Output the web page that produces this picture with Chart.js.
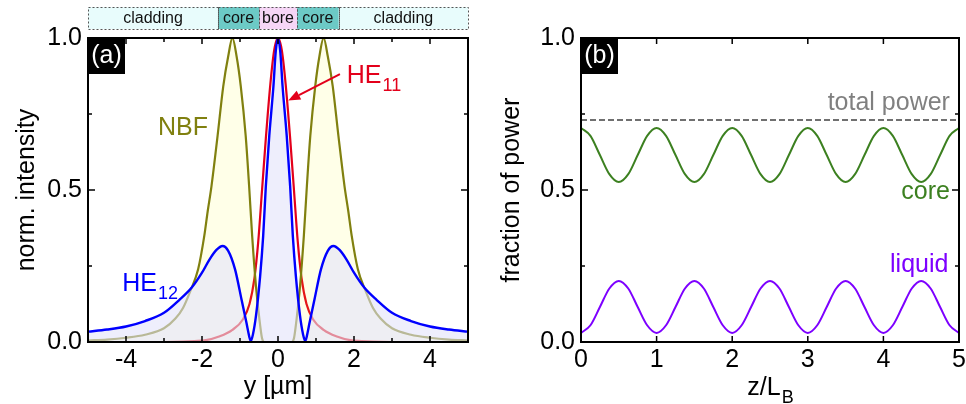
<!DOCTYPE html>
<html><head><meta charset="utf-8">
<script src="https://cdn.jsdelivr.net/npm/chart.js@4.4.1/dist/chart.umd.min.js"></script>
<style>
html,body{margin:0;padding:0;background:#fff;}
#wrap{position:relative;width:966px;height:404px;overflow:hidden;background:#fff;}
#ca{position:absolute;left:0;top:0;}
#cb{position:absolute;left:483px;top:0;}
</style></head><body>
<div id="wrap"><canvas id="ca" width="483" height="404"></canvas><canvas id="cb" width="483" height="404"></canvas></div>
<script>
// ---------- panel (a) data: normalized intensity vs y [um] ----------
const nbfPos = [-5,-4.5,-4,-3.5,-3,-2.7,-2.5,-2.3,-2.1,-1.94,-1.85,-1.75,-1.59,-1.44,-1.31,-1.2,-1.09,-0.98,-0.85,-0.76,-0.68,-0.58,-0.49,-0.42,-0.36,0,0.36,0.42,0.49,0.58,0.68,0.76,0.85,0.98,1.09,1.2,1.31,1.44,1.59,1.75,1.85,1.94,2.1,2.3,2.5,2.7,3,3.5,4,4.5,5];
const nbfInt = [0.005,0.008,0.014,0.024,0.045,0.077,0.112,0.17,0.24,0.349,0.43,0.513,0.678,0.842,0.94,1.0,0.94,0.842,0.678,0.513,0.349,0.184,0.076,0.012,0,0,0,0.012,0.076,0.184,0.349,0.513,0.678,0.842,0.94,1.0,0.94,0.842,0.678,0.513,0.43,0.349,0.24,0.17,0.112,0.077,0.045,0.024,0.014,0.008,0.005];

const he11Pos = [-5,-3,-2.5,-2.2,-1.9,-1.55,-1.2,-0.92,-0.75,-0.62,-0.52,-0.42,-0.32,-0.2,-0.1,0,0.1,0.2,0.32,0.42,0.52,0.62,0.75,0.92,1.2,1.55,1.9,2.2,2.5,3,5];
const he11Int = [0,0,0.001,0.003,0.006,0.018,0.04,0.075,0.125,0.21,0.33,0.5,0.67,0.85,0.96,1.0,0.96,0.85,0.67,0.5,0.33,0.21,0.125,0.075,0.04,0.018,0.006,0.003,0.001,0,0];

const he12Pos = [-5,-4.5,-4,-3.5,-3,-2.6,-2.27,-2,-1.8,-1.62,-1.46,-1.31,-1.13,-0.96,-0.83,-0.76,-0.72,-0.66,-0.58,-0.47,-0.39,-0.32,-0.23,-0.12,-0.06,0,0.06,0.12,0.23,0.32,0.39,0.47,0.58,0.66,0.72,0.76,0.83,0.96,1.13,1.31,1.46,1.62,1.8,2,2.27,2.6,3,3.5,4,4.5,5];
const he12Int = [0.034,0.041,0.051,0.069,0.096,0.138,0.179,0.228,0.272,0.303,0.316,0.30,0.239,0.14,0.063,0.02,0.003,0.025,0.086,0.217,0.349,0.513,0.678,0.842,0.955,1.0,0.955,0.842,0.678,0.513,0.349,0.217,0.086,0.025,0.003,0.02,0.063,0.14,0.239,0.30,0.316,0.303,0.272,0.228,0.179,0.138,0.096,0.069,0.051,0.041,0.034];

// fiber regions (top band)
const regionLabels = ['cladding','core','bore','core','cladding'];
const regionEdges = [-5,-1.58,-0.5,0.5,1.6,5];

// ticks panel (a)
const xTicksA = [-4,-2,0,2,4];
const xMarksA = [-5,-4,-3,-2,-1,0,1,2,3,4,5];
const yTicks = [0,0.5,1.0];
const yMarks = [0,0.25,0.5,0.75,1.0];

// ---------- panel (b) data: fraction of power vs z/L_B ----------
const zPos = [0,0.125,0.25,0.375,0.5,0.625,0.75,0.875,1,1.125,1.25,1.375,1.5,1.625,1.75,1.875,2,2.125,2.25,2.375,2.5,2.625,2.75,2.875,3,3.125,3.25,3.375,3.5,3.625,3.75,3.875,4,4.125,4.25,4.375,4.5,4.625,4.75,4.875,5];
const coreFrac = [0.704,0.678,0.615,0.552,0.526,0.552,0.615,0.678,0.704,0.678,0.615,0.552,0.526,0.552,0.615,0.678,0.704,0.678,0.615,0.552,0.526,0.552,0.615,0.678,0.704,0.678,0.615,0.552,0.526,0.552,0.615,0.678,0.704,0.678,0.615,0.552,0.526,0.552,0.615,0.678,0.704];
const liquidFrac = [0.030,0.055,0.115,0.176,0.201,0.176,0.115,0.055,0.030,0.055,0.115,0.176,0.201,0.176,0.115,0.055,0.030,0.055,0.115,0.176,0.201,0.176,0.115,0.055,0.030,0.055,0.115,0.176,0.201,0.176,0.115,0.055,0.030,0.055,0.115,0.176,0.201,0.176,0.115,0.055,0.030];
const totalPos = [0,5];
const totalFrac = [0.73,0.73];
const xTicksB = [0,1,2,3,4,5];

// ---------- helpers ----------
const FONT = '"Liberation Sans", Arial, Helvetica, sans-serif';
Chart.defaults.font.family = FONT;
const pts = (xs, ys) => xs.map((x, i) => ({x: x, y: ys[i]}));

function subText(ctx, main, sub, x, y, color, align, size) {
  size = size || 25;
  const ss = Math.round(size * 0.7);
  ctx.save();
  ctx.font = size + 'px ' + FONT; const w1 = ctx.measureText(main).width;
  ctx.font = ss + 'px ' + FONT; const w2 = ctx.measureText(sub).width;
  let x0 = x;
  if (align === 'center') x0 = x - (w1 + w2) / 2;
  else if (align === 'right') x0 = x - w1 - w2;
  ctx.fillStyle = color; ctx.textAlign = 'left'; ctx.textBaseline = 'alphabetic';
  ctx.font = size + 'px ' + FONT; ctx.fillText(main, x0, y);
  ctx.font = ss + 'px ' + FONT; ctx.fillText(sub, x0 + w1 + 1, y + 8);
  ctx.restore();
}
function text(ctx, s, x, y, color, align, size) {
  ctx.save();
  ctx.font = (size || 25) + 'px ' + FONT; ctx.fillStyle = color;
  ctx.textAlign = align || 'left'; ctx.textBaseline = 'alphabetic';
  ctx.fillText(s, x, y); ctx.restore();
}
function frameAndTicks(chart, xMarks, xMajor) {
  const ctx = chart.ctx, a = chart.chartArea, sx = chart.scales.x, sy = chart.scales.y;
  ctx.save();
  ctx.strokeStyle = '#000';
  ctx.lineWidth = 1.5;
  ctx.beginPath();
  xMarks.forEach(v => {
    const p = sx.getPixelForValue(v); const L = xMajor.includes(v) ? 6 : 4;
    ctx.moveTo(p, a.bottom); ctx.lineTo(p, a.bottom - L);
    ctx.moveTo(p, a.top); ctx.lineTo(p, a.top + L);
  });
  yMarks.forEach(v => {
    const p = sy.getPixelForValue(v); const L = yTicks.includes(v) ? 7 : 4;
    ctx.moveTo(a.left, p); ctx.lineTo(a.left + L, p);
    ctx.moveTo(a.right, p); ctx.lineTo(a.right - L, p);
  });
  ctx.stroke();
  ctx.lineWidth = 2;
  ctx.strokeRect(a.left, a.top, a.right - a.left, a.bottom - a.top);
  ctx.restore();
}
function panelTag(chart, s) {
  const ctx = chart.ctx, a = chart.chartArea;
  ctx.save();
  ctx.fillStyle = '#000'; ctx.fillRect(a.left, a.top, 37, 36);
  ctx.fillStyle = '#fff'; ctx.font = '25px ' + FONT; ctx.textAlign = 'center'; ctx.textBaseline = 'middle';
  ctx.fillText(s, a.left + 18.5, a.top + 18);
  ctx.restore();
}
function yTitle(chart, s, xBase) {
  const ctx = chart.ctx, a = chart.chartArea;
  ctx.save();
  ctx.translate(xBase, (a.top + a.bottom) / 2); ctx.rotate(-Math.PI / 2);
  ctx.font = '25px ' + FONT; ctx.fillStyle = '#000'; ctx.textAlign = 'center'; ctx.textBaseline = 'alphabetic';
  ctx.fillText(s, 0, 0); ctx.restore();
}
function arrow(ctx, x1, y1, x2, y2, color) {
  const ang = Math.atan2(y2 - y1, x2 - x1), L = 12, W = 5;
  const bx = x2 - L * Math.cos(ang), by = y2 - L * Math.sin(ang);
  ctx.save(); ctx.strokeStyle = color; ctx.fillStyle = color; ctx.lineWidth = 2;
  ctx.beginPath(); ctx.moveTo(x1, y1); ctx.lineTo(bx, by); ctx.stroke();
  ctx.beginPath(); ctx.moveTo(x2, y2);
  ctx.lineTo(bx + W * Math.sin(ang), by - W * Math.cos(ang));
  ctx.lineTo(bx - W * Math.sin(ang), by + W * Math.cos(ang));
  ctx.closePath(); ctx.fill(); ctx.restore();
}

const tickFont = {family: FONT, size: 25};
function fixY(w) { return s => { s.width = w; s.paddingTop = 0; s.paddingBottom = 0; }; }
function fixX(h) { return s => { s.height = h; s.paddingLeft = 0; s.paddingRight = 0; }; }

// ---------- panel (a) ----------
const RED = '#e3001b', BLUE = '#0000ff', OLIVE = '#80800f';
const plugA = {
  id: 'plugA',
  afterDatasetsDraw(chart) {
    frameAndTicks(chart, xMarksA, xTicksA);
    panelTag(chart, '(a)');
  },
  afterDraw(chart) {
    const ctx = chart.ctx, a = chart.chartArea, sx = chart.scales.x, sy = chart.scales.y;
    // region band
    const colors = {cladding: '#e8fcfc', core: '#6ccac6', bore: '#f6d6f6'};
    ctx.save();
    const top = a.top - 31, h = 22;
    for (let i = 0; i < regionLabels.length; i++) {
      const x0 = sx.getPixelForValue(regionEdges[i]), x1 = sx.getPixelForValue(regionEdges[i + 1]);
      ctx.fillStyle = colors[regionLabels[i]];
      ctx.fillRect(x0, top, x1 - x0, h);
    }
    ctx.strokeStyle = '#555'; ctx.lineWidth = 1; ctx.setLineDash([2, 2]);
    for (let i = 0; i < regionLabels.length; i++) {
      const x0 = sx.getPixelForValue(regionEdges[i]), x1 = sx.getPixelForValue(regionEdges[i + 1]);
      ctx.strokeRect(Math.round(x0) + 0.5, top + 0.5, Math.round(x1 - x0), h);
    }
    ctx.setLineDash([]);
    ctx.fillStyle = '#111'; ctx.font = '16px ' + FONT; ctx.textAlign = 'center'; ctx.textBaseline = 'middle';
    for (let i = 0; i < regionLabels.length; i++) {
      const x0 = sx.getPixelForValue(regionEdges[i]), x1 = sx.getPixelForValue(regionEdges[i + 1]);
      ctx.fillText(regionLabels[i], (x0 + x1) / 2, top + h / 2 + 1);
    }
    ctx.restore();
    // labels
    text(ctx, 'NBF', sx.getPixelForValue(-3.16), sy.getPixelForValue(0.68), OLIVE, 'left', 25);
    subText(ctx, 'HE', '11', sx.getPixelForValue(1.81), sy.getPixelForValue(0.851), RED, 'left', 25);
    subText(ctx, 'HE', '12', sx.getPixelForValue(-4.1), sy.getPixelForValue(0.168), BLUE, 'left', 25);
    arrow(ctx, sx.getPixelForValue(1.63), sy.getPixelForValue(0.881), sx.getPixelForValue(0.27), sy.getPixelForValue(0.794), RED);
    // axis titles
    yTitle(chart, 'norm. intensity', 34);
    text(ctx, 'y [µm]', (a.left + a.right) / 2, 394, '#000', 'center', 25);
  }
};

new Chart(document.getElementById('ca'), {
  type: 'line',
  data: {
    datasets: [
      {label: 'HE12', data: pts(he12Pos, he12Int), borderColor: BLUE, borderWidth: 2.4,
       backgroundColor: 'rgba(226,226,250,0.58)', fill: 'origin', pointRadius: 0, cubicInterpolationMode: 'monotone'},
      {label: 'NBF', data: pts(nbfPos, nbfInt), borderColor: OLIVE, borderWidth: 2.2,
       backgroundColor: 'rgba(255,255,0,0.09)', fill: 'origin', pointRadius: 0, cubicInterpolationMode: 'monotone'},
      {label: 'HE11', data: pts(he11Pos, he11Int), borderColor: RED, borderWidth: 2.2,
       fill: false, pointRadius: 0, cubicInterpolationMode: 'monotone'}
    ]
  },
  options: {
    responsive: false, animation: false, devicePixelRatio: 1,
    layout: {padding: {top: 38, right: 15, left: 0, bottom: 0}},
    plugins: {legend: {display: false}, tooltip: {enabled: false}},
    scales: {
      x: {type: 'linear', min: -5, max: 5,
          afterBuildTicks: s => { s.ticks = xTicksA.map(v => ({value: v})); },
          ticks: {font: tickFont, color: '#000', padding: 3, maxRotation: 0, autoSkip: false, callback: v => String(v)},
          grid: {display: false, drawTicks: false}, border: {display: false}, afterFit: fixX(62)},
      y: {type: 'linear', min: 0, max: 1,
          afterBuildTicks: s => { s.ticks = yTicks.map(v => ({value: v})); },
          ticks: {font: tickFont, color: '#000', padding: 6, autoSkip: false, callback: v => Number(v).toFixed(1)},
          grid: {display: false, drawTicks: false}, border: {display: false}, afterFit: fixY(88)}
    }
  },
  plugins: [plugA]
});

// ---------- panel (b) ----------
const GREEN = '#3c8020', PURPLE = '#7d00ff', GRAY = '#808080';
const plugB = {
  id: 'plugB',
  afterDatasetsDraw(chart) {
    frameAndTicks(chart, xTicksB, xTicksB);
    panelTag(chart, '(b)');
  },
  afterDraw(chart) {
    const ctx = chart.ctx, a = chart.chartArea, sx = chart.scales.x, sy = chart.scales.y;
    text(ctx, 'total power', sx.getPixelForValue(4.88), sy.getPixelForValue(0.763), GRAY, 'right', 25);
    text(ctx, 'core', sx.getPixelForValue(4.88), sy.getPixelForValue(0.47), GREEN, 'right', 25);
    text(ctx, 'liquid', sx.getPixelForValue(4.86), sy.getPixelForValue(0.23), PURPLE, 'right', 25);
    yTitle(chart, 'fraction of power', 36);
    subText(ctx, 'z/L', 'B', (a.left + a.right) / 2, 395, '#000', 'center', 25);
  }
};

new Chart(document.getElementById('cb'), {
  type: 'line',
  data: {
    datasets: [
      {label: 'total power', data: pts(totalPos, totalFrac), borderColor: '#707070', borderWidth: 2,
       borderDash: [6, 3], fill: false, pointRadius: 0},
      {label: 'core', data: pts(zPos, coreFrac), borderColor: GREEN, borderWidth: 2,
       fill: false, pointRadius: 0, cubicInterpolationMode: 'monotone'},
      {label: 'liquid', data: pts(zPos, liquidFrac), borderColor: PURPLE, borderWidth: 2,
       fill: false, pointRadius: 0, cubicInterpolationMode: 'monotone'}
    ]
  },
  options: {
    responsive: false, animation: false, devicePixelRatio: 1,
    layout: {padding: {top: 38, right: 7, left: 0, bottom: 0}},
    plugins: {legend: {display: false}, tooltip: {enabled: false}},
    scales: {
      x: {type: 'linear', min: 0, max: 5,
          afterBuildTicks: s => { s.ticks = xTicksB.map(v => ({value: v})); },
          ticks: {font: tickFont, color: '#000', padding: 3, maxRotation: 0, autoSkip: false, callback: v => String(v)},
          grid: {display: false, drawTicks: false}, border: {display: false}, afterFit: fixX(62)},
      y: {type: 'linear', min: 0, max: 1,
          afterBuildTicks: s => { s.ticks = yTicks.map(v => ({value: v})); },
          ticks: {font: tickFont, color: '#000', padding: 6, autoSkip: false, callback: v => Number(v).toFixed(1)},
          grid: {display: false, drawTicks: false}, border: {display: false}, afterFit: fixY(98)}
    }
  },
  plugins: [plugB]
});
</script>
</body></html>
